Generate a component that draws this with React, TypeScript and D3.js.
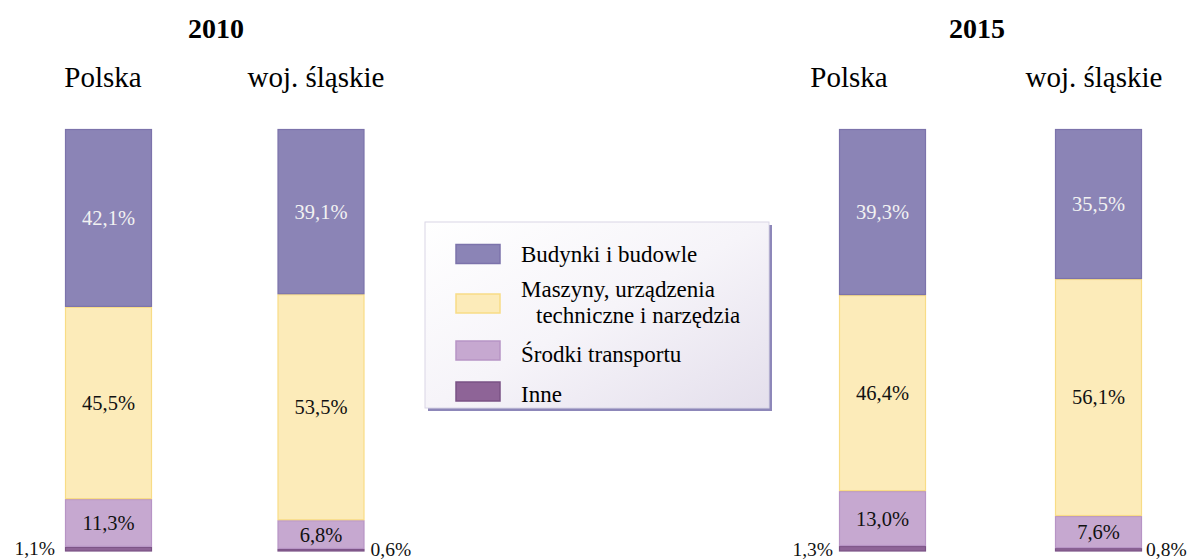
import React from "react";
import * as d3 from "d3";

// Struktura nakładów inwestycyjnych (%), Polska vs woj. śląskie
const columns = ["2010 Polska", "2010 śląskie", "2015 Polska", "2015 śląskie"];
const years = ["2010", "2015"];
const regionNames = ["Polska", "woj. śląskie"];
const seriesNames = ["Budynki i budowle", "Maszyny, urządzenia techniczne i narzędzia", "Środki transportu", "Inne"];
const budynki = [42.1, 39.1, 39.3, 35.5];
const maszyny = [45.5, 53.5, 46.4, 56.1];
const srodki = [11.3, 6.8, 13.0, 7.6];
const inne = [1.1, 0.6, 1.3, 0.8];

const W = 1192;
const H = 560;
const BAR_W = 87;

const fills = ["#8b84b6", "#fcebb9", "#c6a8d0", "#8e6497"];
const strokes = ["#7c73ab", "#f8dc86", "#b794c5", "#7a5285"];
const labelColors = ["#f2f2f2", "#111", "#111", "#111"];

const serif = "'Liberation Serif', 'Times New Roman', serif";

function fmt(v: number) {
  return v.toFixed(1).replace(".", ",") + "%";
}

export default function App() {
  const rows = columns.map((c, i) => ({
    col: c,
    inne: inne[i],
    srodki: srodki[i],
    maszyny: maszyny[i],
    budynki: budynki[i],
  }));
  const keys = ["inne", "srodki", "maszyny", "budynki"];
  const stacked = d3.stack<any>().keys(keys)(rows);

  const y = d3.scaleLinear().domain([0, 100]).range([551.5, 129]);
  const x = d3.scaleOrdinal<string, number>().domain(columns).range([65, 277.5, 839, 1055]);

  // series index in legend order for each stack key
  const seriesIdx: Record<string, number> = { budynki: 0, maszyny: 1, srodki: 2, inne: 3 };

  const yearCenters = [216, 977];
  const regionCenters = [
    [103, 316],
    [849, 1094],
  ];

  // small "Inne" labels placed beside bars
  const smallLabelPos = [
    { dx: -10, anchor: "end", dy: 3 },
    { dx: BAR_W + 6, anchor: "start", dy: 4 },
    { dx: -6, anchor: "end", dy: 4 },
    { dx: BAR_W + 4, anchor: "start", dy: 4 },
  ];

  const legend = { x: 425, y: 222, w: 344, h: 186 };
  const legendRows = [
    { sy: 244.5, lines: ["Budynki i budowle"], ty: [261.5], tx: [521] },
    { sy: 294, lines: ["Maszyny, urządzenia", "techniczne i narzędzia"], ty: [297, 323], tx: [521, 536] },
    { sy: 341, lines: ["Środki transportu"], ty: [361.5], tx: [521] },
    { sy: 382, lines: ["Inne"], ty: [401.5], tx: [521] },
  ];

  return (
    <svg
      width={W}
      height={H}
      style={{ position: "absolute", left: 0, top: 0, background: "#fff" }}
      fontFamily={serif}
    >
      <defs>
        <linearGradient id="legendBg" x1="0" y1="0" x2="1" y2="1">
          <stop offset="0" stopColor="#ffffff" />
          <stop offset="0.5" stopColor="#f6f4f9" />
          <stop offset="1" stopColor="#e4dfec" />
        </linearGradient>
      </defs>

      {/* year headings */}
      {years.map((yr, i) => (
        <text key={yr} x={yearCenters[i]} y={38} textAnchor="middle" fontSize={28} fontWeight="bold" fill="#000">
          {yr}
        </text>
      ))}
      {years.map((yr, i) =>
        regionNames.map((r, j) => (
          <text key={yr + r} x={regionCenters[i][j]} y={87} textAnchor="middle" fontSize={29} fill="#000">
            {r}
          </text>
        ))
      )}

      {/* stacked bars */}
      {stacked.map((layer) => {
        const si = seriesIdx[layer.key];
        return (
          <g key={layer.key}>
            {layer.map((d: any, i: number) => (
              <rect
                key={i}
                x={x(d.data.col) + 0.5}
                y={y(d[1]) + 0.5}
                width={BAR_W - 1}
                height={Math.max(0, y(d[0]) - y(d[1]) - 1)}
                fill={fills[si]}
                stroke={strokes[si]}
                strokeWidth={1.2}
              />
            ))}
          </g>
        );
      })}

      {/* value labels inside bars */}
      {stacked
        .filter((l) => l.key !== "inne")
        .map((layer) => {
          const si = seriesIdx[layer.key];
          return layer.map((d: any, i: number) => (
            <text
              key={layer.key + i}
              x={x(d.data.col) + BAR_W / 2}
              y={(y(d[0]) + y(d[1])) / 2 + 7}
              textAnchor="middle"
              fontSize={20.5}
              fill={labelColors[si]}
            >
              {fmt(d[1] - d[0])}
            </text>
          ));
        })}

      {/* "Inne" labels beside bars */}
      {stacked
        .filter((l) => l.key === "inne")
        .map((layer) =>
          layer.map((d: any, i: number) => (
            <text
              key={"inne" + i}
              x={x(d.data.col) + smallLabelPos[i].dx}
              y={y(0) + smallLabelPos[i].dy}
              textAnchor={smallLabelPos[i].anchor as any}
              fontSize={19.5}
              fill="#111"
            >
              {fmt(d[1] - d[0])}
            </text>
          ))
        )}

      {/* legend */}
      <g>
        <rect x={legend.x + 3} y={legend.y + 3} width={legend.w} height={legend.h} fill="#8d87b9" />
        <rect
          x={legend.x}
          y={legend.y}
          width={legend.w}
          height={legend.h}
          fill="url(#legendBg)"
          stroke="#d9d6e6"
          strokeWidth={1}
        />
        {legendRows.map((r, i) => (
          <g key={seriesNames[i]}>
            <rect
              x={456}
              y={r.sy}
              width={44}
              height={19}
              fill={fills[i]}
              stroke={strokes[i]}
              strokeWidth={1.5}
            />
            {r.lines.map((ln, k) => (
              <text key={k} x={r.tx[k]} y={r.ty[k]} fontSize={23} fill="#000">
                {ln}
              </text>
            ))}
          </g>
        ))}
      </g>
    </svg>
  );
}
